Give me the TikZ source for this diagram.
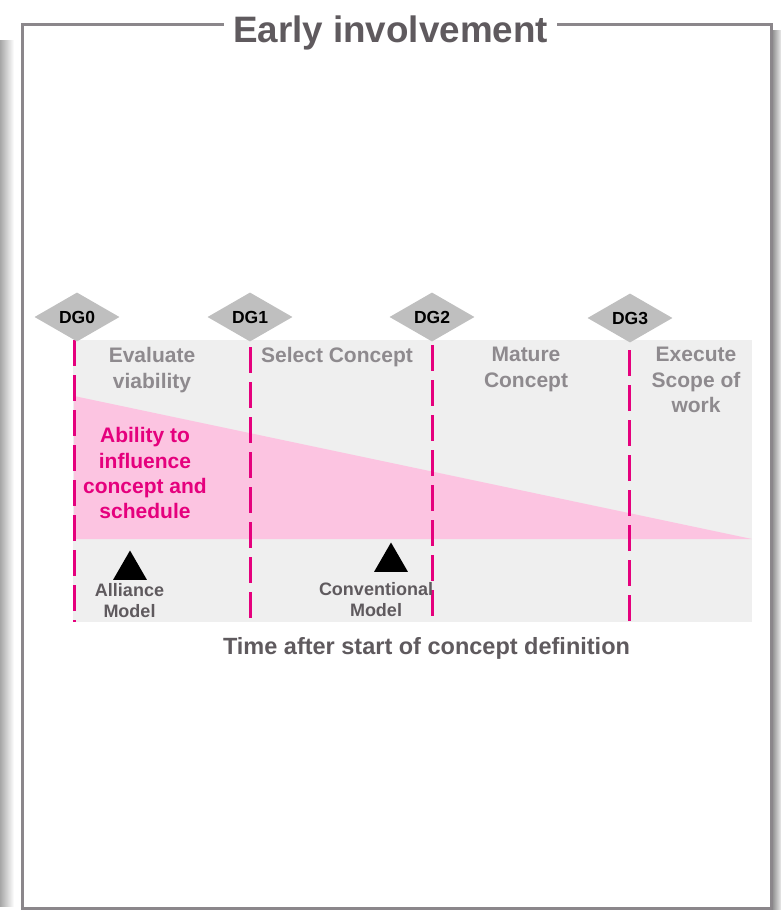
\documentclass[tikz,border=0pt]{standalone}
\usepackage{fontspec}
\setmainfont{Liberation Sans}
\usetikzlibrary{shapes.geometric}
\definecolor{framecol}{HTML}{8B878B}
\definecolor{titlecol}{HTML}{5F5A5E}
\definecolor{phasecol}{HTML}{8E8A8E}
\definecolor{pinkcol}{HTML}{FCC4E1}
\definecolor{magcol}{HTML}{E5007D}
\definecolor{bgcol}{HTML}{EFEFEF}
\definecolor{gatecol}{HTML}{BFBFBF}
\tikzset{
  gate/.style={diamond, fill=gatecol, minimum width=85pt, minimum height=49pt, inner sep=0pt,
    font=\bfseries\fontsize{17.5}{20}\selectfont, text=black},
  gateline/.style={magcol, line width=3pt, dash pattern=on 26pt off 9pt},
  phase/.style={align=center, inner sep=0pt, anchor=north, text=phasecol,
    font=\bfseries\fontsize{21}{25.6}\selectfont},
  ability/.style={align=center, inner sep=0pt, anchor=north, text=magcol,
    font=\bfseries\fontsize{21}{25.3}\selectfont},
  model/.style={align=center, inner sep=0pt, anchor=north, text=titlecol,
    font=\bfseries\fontsize{18}{21}\selectfont},
  marker/.style={regular polygon, regular polygon sides=3, fill=black, minimum size=39pt, inner sep=0pt},
}
\begin{document}
\begin{tikzpicture}[x=1pt,y=-1pt]
\useasboundingbox (0,0) rectangle (781,910);
% shadows
\shade[left color=black!35, right color=white] (0,40) rectangle (14,906);
\shade[left color=black!45, right color=black!8] (772,30) rectangle (781,910);
% frame
\draw[framecol, line width=3pt] (22,24) rectangle (771,908);
\node[fill=white, inner xsep=9pt, inner ysep=2pt, anchor=base, text=titlecol,
  font=\bfseries\fontsize{36.8}{40}\selectfont] (title) at (390.5,42) {Early involvement};
% chart background
\fill[bgcol] (73,340) rectangle (752,622);
\fill[pinkcol] (74,396) -- (74,539) -- (752,539) -- cycle;
% gate lines
\coordinate (g0t) at (74,340); \coordinate (g0b) at (74,622);
\coordinate (g1t) at (250,347); \coordinate (g1b) at (250,618);
\coordinate (g2t) at (432,345); \coordinate (g2b) at (432,617);
\coordinate (g3t) at (629,350); \coordinate (g3b) at (629,621);
\draw[gateline] (g0t) -- (g0b);
\draw[gateline] (g1t) -- (g1b);
\draw[gateline] (g2t) -- (g2b);
\draw[gateline] (g3t) -- (g3b);
% gates
\node[gate] (dg0) at (77,317) {DG0};
\node[gate] (dg1) at (250,317) {DG1};
\node[gate] (dg2) at (432,317) {DG2};
\node[gate] (dg3) at (630,318) {DG3};
% phases
\node[phase] (ph0) at (152,347) {Evaluate\\viability};
\node[phase] (ph1) at (337,347) {Select Concept};
\node[phase] (ph2) at (526,347) {Mature\\Concept};
\node[phase] (ph3) at (696,347) {Execute\\Scope of\\work};
% ability
\node[ability] (abl) at (145,427.5) {Ability to\\influence\\concept and\\schedule};
% models
\node[marker] (mkA) at (130,570) {};
\node[marker] (mkC) at (391,562) {};
\node[model] (lblA) at (129.5,583) {Alliance\\Model};
\node[model] (lblC) at (376,582) {Conventional\\Model};
% axis label
\node[anchor=base, inner sep=0pt, text=titlecol, font=\bfseries\fontsize{23.5}{27}\selectfont]
  (axis) at (426.5,654) {Time after start of concept definition};
\end{tikzpicture}
\end{document}
